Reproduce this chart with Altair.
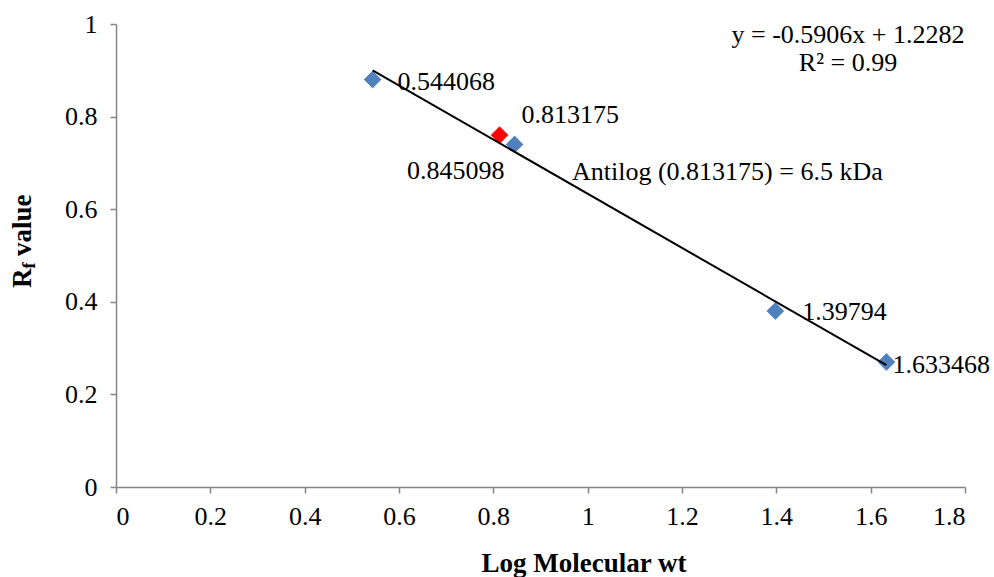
import altair as alt
import pandas as pd

# data
log_mw = [0.544068, 0.845098, 1.39794, 1.633468]
rf = [0.88, 0.74, 0.38, 0.27]
unknown_x = [0.813175]
unknown_y = [0.76]
trend_x = [0.544068, 1.633468]
trend_y = [0.900, 0.263]
label_text = ["0.544068", "0.845098", "1.39794", "1.633468"]
x_ticks = [0, 0.2, 0.4, 0.6, 0.8, 1, 1.2, 1.4, 1.6, 1.8]
y_ticks = [0, 0.2, 0.4, 0.6, 0.8, 1]

FONT = "'Liberation Serif', 'Times New Roman', Times, serif"
FS = 26

pts = pd.DataFrame({"x": log_mw, "y": rf, "lab": label_text})
unk = pd.DataFrame({"x": unknown_x, "y": unknown_y, "lab": ["0.813175"]})
trend = pd.DataFrame({"x": trend_x, "y": trend_y})

xs = alt.Scale(domain=[0, 1.8], nice=False, zero=True)
ys = alt.Scale(domain=[0, 1], nice=False)

axis_common = dict(
    grid=False, domainColor="#868686", tickColor="#868686", tickSize=6, domainWidth=1.5, tickWidth=1.5,
    labelFont=FONT, labelFontSize=FS, labelColor="black", labelExpr="datum.value", title=None,
)

base_x = alt.X("x:Q", scale=xs, axis=alt.Axis(values=x_ticks, labelPadding=10, **axis_common))
base_y = alt.Y("y:Q", scale=ys, axis=alt.Axis(values=y_ticks, labelPadding=13, **axis_common))

blue = alt.Chart(pts).mark_point(shape="diamond", filled=True, size=340, color="#4F81BD",
                                 opacity=1, stroke="white", strokeWidth=0.8).encode(x=base_x, y=base_y)
red = alt.Chart(unk).mark_point(shape="diamond", filled=True, size=340, color="#FF0000",
                                opacity=1, stroke="white", strokeWidth=0.8).encode(x="x:Q", y="y:Q")
line = alt.Chart(trend).mark_line(color="black", strokeWidth=2).encode(x="x:Q", y="y:Q")

txt_kw = dict(font=FONT, fontSize=FS, color="black", baseline="middle")


def one_label(lab, **kw):
    return alt.Chart(pts[pts.lab == lab]).mark_text(**txt_kw, **kw).encode(
        x="x:Q", y="y:Q", text="lab:N")


lab1 = one_label("0.544068", align="left", dx=25, dy=2)
lab2 = one_label("0.845098", align="right", dx=-10, dy=27)
lab3 = one_label("1.39794", align="left", dx=27, dy=1)
lab4 = one_label("1.633468", align="left", dx=6, dy=3)
lab_unk = alt.Chart(unk).mark_text(align="left", dx=22, dy=-20, **txt_kw).encode(
    x="x:Q", y="y:Q", text="lab:N")


def free_text(t, x, y, **kw):
    return alt.Chart(pd.DataFrame({"t": [t]})).mark_text(**kw).encode(
        x=alt.value(x), y=alt.value(y), text="t:N")


antilog = free_text("Antilog (0.813175) = 6.5 kDa", 456, 148, align="left", **txt_kw)
eq = free_text("y = -0.5906x + 1.2282", 732, 11, align="center", **txt_kw)
r2 = free_text("R² = 0.99", 732, 39, align="center", **txt_kw)

xtitle = free_text("Log Molecular wt", 468, 540, align="center", font=FONT, fontSize=FS + 1,
                   fontWeight="bold", color="black", baseline="middle")

ytitle_kw = dict(font=FONT, fontWeight="bold", color="black", angle=270, baseline="middle", align="left")
yt1 = free_text("R", -93, 264, fontSize=FS + 1, **ytitle_kw)
yt2 = free_text("f", -86, 244.5, fontSize=18, **ytitle_kw)
yt3 = free_text("value", -93, 232, fontSize=FS + 1, **ytitle_kw)

chart = alt.layer(blue, red, line, lab1, lab2, lab3, lab4, lab_unk, antilog, eq, r2,
                  xtitle, yt1, yt2, yt3).properties(
    width=849, height=463,
    autosize=alt.AutoSizeParams(type="none"),
    padding={"left": 116, "top": 24, "right": 29, "bottom": 90},
    background="white",
).configure_view(stroke=None)

chart.save("out.html", embed_options={"renderer": "svg", "actions": False})
